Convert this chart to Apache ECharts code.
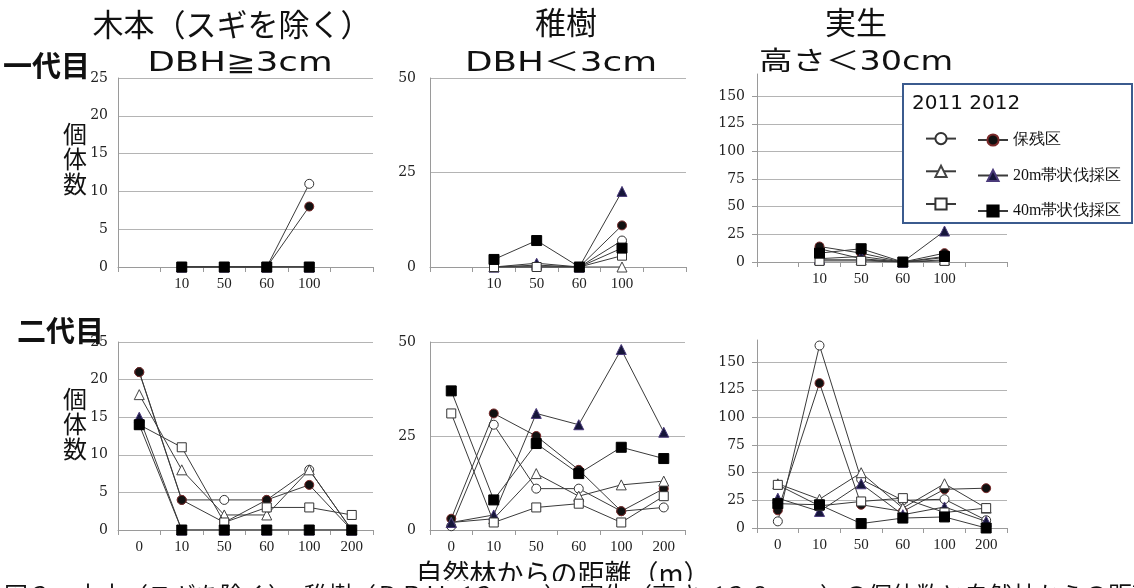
<!DOCTYPE html>
<html><head><meta charset="utf-8">
<script src="https://cdn.jsdelivr.net/npm/echarts@6/dist/echarts.min.js"></script>
<style>html,body{margin:0;padding:0;background:#fff}#c{width:1134px;height:588px}</style>
</head><body><div id="c"></div>
<script>
// ---- data ----
const catsTop = ['', '10', '50', '60', '100', ''];
const catsBottom = ['0', '10', '50', '60', '100', '200'];
const seriesNames = ['保残区 2011', '保残区 2012', '20m帯状伐採区 2011', '20m帯状伐採区 2012', '40m帯状伐採区 2011', '40m帯状伐採区 2012'];
const names2011 = ['保残区 2011', '20m帯状伐採区 2011', '40m帯状伐採区 2011'];
const names2012 = ['保残区 2012', '20m帯状伐採区 2012', '40m帯状伐採区 2012'];

// 一代目 (rows follow seriesNames order)
const tree1 = [
  [null, 0, 0, 0, 11, null],
  [null, 0, 0, 0, 8, null],
  [null, 0, 0, 0, 0, null],
  [null, 0, 0, 0, 0, null],
  [null, 0, 0, 0, 0, null],
  [null, 0, 0, 0, 0, null]
];
const sapling1 = [
  [null, 0, 0, 0, 7, null],
  [null, 0, 0, 0, 11, null],
  [null, 0, 0.5, 0, 0, null],
  [null, 0, 1, 0, 20, null],
  [null, 0, 0, 0, 3, null],
  [null, 2, 7, 0, 5, null]
];
const seedling1 = [
  [null, 12, 3, 0, 4, null],
  [null, 14, 8, 0, 8, null],
  [null, 2, 2, 0, 2, null],
  [null, 3, 5, 0, 28, null],
  [null, 1, 1, 0, 1, null],
  [null, 8, 12, 0, 5, null]
];
// 二代目
const tree2 = [
  [21, 4, 4, 4, 8, 0],
  [21, 4, 1, 4, 6, 0],
  [18, 8, 2, 2, 8, 0],
  [15, 0, 0, 0, 0, 0],
  [14, 11, 1, 3, 3, 2],
  [14, 0, 0, 0, 0, 0]
];
const sapling2 = [
  [1, 28, 11, 11, 5, 6],
  [3, 31, 25, 16, 5, 11],
  [2, 3, 15, 9, 12, 13],
  [2, 4, 31, 28, 48, 26],
  [31, 2, 6, 7, 2, 9],
  [37, 8, 23, 15, 22, 19]
];
const seedling2 = [
  [6, 165, 44, 25, 26, 7],
  [16, 131, 21, 15, 35, 36],
  [40, 26, 50, 18, 40, 18],
  [27, 15, 40, 12, 19, 6],
  [39, 20, 24, 27, 14, 18],
  [22, 21, 4, 9, 10, 0]
];
const yMax = [25, 50, 170, 25, 50, 170];
const yInterval = [5, 25, 25, 5, 25, 25];

// ---- styling ----
const panelData = [tree1, sapling1, seedling1, tree2, sapling2, seedling2];
const grids = [
  {left: 118, top: 78, width: 255, height: 189},
  {left: 430, top: 78, width: 256, height: 189},
  {left: 757, top: 74, width: 250, height: 188},
  {left: 118, top: 342, width: 255, height: 188},
  {left: 430, top: 342, width: 255, height: 188},
  {left: 757, top: 340, width: 250, height: 188}
];
const yLabelMargin = [10, 14, 12, 10, 14, 12];
const symStyles = [
  {symbol: 'circle', size: 9, fill: '#ffffff', border: '#333333'},
  {symbol: 'circle', size: 9, fill: '#111111', border: '#7a2a2a'},
  {symbol: 'triangle', size: 10, fill: '#ffffff', border: '#444444'},
  {symbol: 'triangle', size: 10, fill: '#16163a', border: '#4a3a7a'},
  {symbol: 'rect', size: 9, fill: '#ffffff', border: '#333333'},
  {symbol: 'rect', size: 10, fill: '#000000', border: '#000000'}
];

const xAxes = [], yAxes = [], series = [];
for (let p = 0; p < 6; p++) {
  const top = p < 3;
  xAxes.push({
    type: 'category', gridIndex: p, data: top ? catsTop : catsBottom,
    boundaryGap: true,
    axisLine: {lineStyle: {color: '#9a9a9a', width: 1}},
    axisTick: {show: true, length: 5, lineStyle: {color: '#9a9a9a'}},
    axisLabel: {color: '#222', fontFamily: 'Liberation Serif', fontSize: 15, margin: 10, interval: 0},
    splitLine: {show: false}
  });
  const isRight = (p % 3) === 2;
  yAxes.push({
    type: 'value', gridIndex: p, min: 0, max: yMax[p], interval: yInterval[p],
    axisLine: {show: true, lineStyle: {color: '#9a9a9a', width: 1}},
    axisTick: {show: isRight, length: 5, lineStyle: {color: '#9a9a9a'}},
    axisLabel: {color: '#222', fontFamily: 'DejaVu Serif', fontSize: 14, margin: yLabelMargin[p], showMaxLabel: !isRight},
    splitLine: {show: true, showMaxLine: !isRight, lineStyle: {color: '#b4b4b4', width: 1}}
  });
  panelData[p].forEach((vals, s) => {
    const st = symStyles[s];
    series.push({
      name: seriesNames[s], type: 'line', xAxisIndex: p, yAxisIndex: p,
      data: vals, symbol: st.symbol, symbolSize: st.size, showAllSymbol: true,
      lineStyle: {color: '#3a3a3a', width: 1},
      itemStyle: {color: st.fill, borderColor: st.border, borderWidth: 1},
      emphasis: {disabled: true}, animation: false, z: 2 + s * 0.01
    });
  });
}

const mctx = document.createElement('canvas').getContext('2d');
function measure(text, font) { mctx.font = font; return mctx.measureText(text).width; }

const titleFont = '31px "Noto Sans CJK JP"';
const subFont = '26px "DejaVu Sans", "Noto Sans CJK JP"';
function txt(text, x, y, font, align, extra) {
  return Object.assign({type: 'text', x: x, y: y, z: 10,
    style: {text: text, font: font, fill: '#111', textAlign: align || 'center', textVerticalAlign: 'middle'}}, extra || {});
}
function stretched(text, cx, y, font, targetW) {
  const s = targetW / measure(text, font);
  return txt(text, cx, y, font, 'center', {scaleX: s});
}

const graphics = [
  txt('木本（スギを除く）', 232, 24, titleFont),
  stretched('DBH≧3cm', 240, 64, subFont, 185),
  txt('稚樹', 566, 22, titleFont),
  stretched('DBH＜3cm', 561, 64, subFont, 192),
  txt('実生', 856, 22, titleFont),
  stretched('高さ＜30cm', 856, 63, subFont, 194),
  txt('一代目', 3, 66, 'bold 29px "Noto Sans CJK JP"', 'left'),
  txt('二代目', 17, 331, 'bold 29px "Noto Sans CJK JP"', 'left'),
  {type: 'text', x: 75, y: 121, z: 10, style: {text: '個\n体\n数', font: '24px "Noto Sans CJK JP"', lineHeight: 25, fill: '#111', textAlign: 'center', textVerticalAlign: 'top'}},
  {type: 'text', x: 75, y: 386, z: 10, style: {text: '個\n体\n数', font: '24px "Noto Sans CJK JP"', lineHeight: 25, fill: '#111', textAlign: 'center', textVerticalAlign: 'top'}},
  txt('自然林からの距離（m）', 563, 574, '27px "Noto Sans CJK JP"'),
  {type: 'rect', z: 3, shape: {x: 903, y: 84, width: 229, height: 139}, style: {fill: '#ffffff', stroke: '#3b5b8e', lineWidth: 2}},
  txt('2011 2012', 912, 104, '20px "DejaVu Sans"', 'left'),
  {type: 'text', x: 4, y: 581, z: 11, style: {text: '図３　木本（スギを除く）、稚樹（ＤＢＨ＜３ｃｍ）、実生（高さ＜３０ｃｍ）の個体数と自然林からの距離の関係', font: '24px "Noto Sans CJK JP"', fill: '#111', backgroundColor: '#ffffff', padding: [2, 0, 0, 0], textAlign: 'left', textVerticalAlign: 'top'}}
];

const chart = echarts.init(document.getElementById('c'), null, {renderer: 'canvas'});
chart.setOption({
  animation: false,
  backgroundColor: '#ffffff',
  grid: grids,
  xAxis: xAxes,
  yAxis: yAxes,
  series: series,
  legend: [
    {data: names2011, orient: 'vertical', left: 920, top: 127, itemWidth: 30, itemHeight: 14, itemGap: 19.5,
      formatter: () => '', selectedMode: false, z: 5, textStyle: {fontSize: 16, lineHeight: 14}},
    {data: names2012, orient: 'vertical', left: 972, top: 127, itemWidth: 30, itemHeight: 14, itemGap: 19.5,
      formatter: n => n.replace(/ 20\d\d$/, ''), selectedMode: false, z: 5,
      textStyle: {fontFamily: 'Liberation Serif', fontSize: 16, lineHeight: 14, color: '#111'}}
  ],
  graphic: {elements: graphics}
});
</script></body></html>
